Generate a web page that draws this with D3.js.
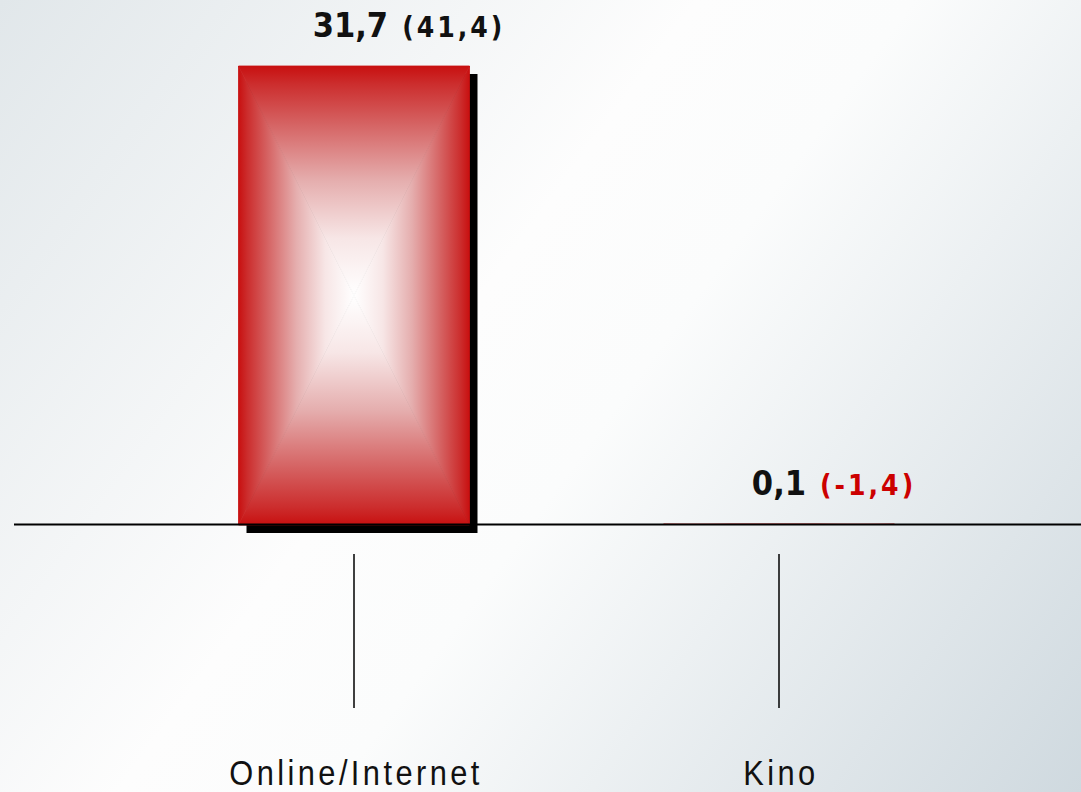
<!DOCTYPE html>
<html>
<head>
<meta charset="utf-8">
<script src="https://cdn.jsdelivr.net/npm/d3@7"></script>
<style>
  html, body { margin: 0; padding: 0; overflow: hidden; }
  svg { display: block; }
</style>
</head>
<body>
<script>
// data
var categories = ["Online/Internet", "Kino"];
var values = [31.7, 0.1];
var changes = ["(41,4)", "(-1,4)"];
var valueLabels = ["31,7", "0,1"];

var W = 1081, H = 792;

var svg = d3.select(document.body).append("svg")
  .attr("width", W).attr("height", H);

var defs = svg.append("defs");

// page background
var bg = defs.append("linearGradient").attr("id", "bg")
  .attr("gradientUnits", "userSpaceOnUse")
  .attr("x1", 0).attr("y1", 0).attr("x2", W).attr("y2", H);
bg.append("stop").attr("offset", 0).attr("stop-color", "#e1e7ea");
bg.append("stop").attr("offset", 0.42).attr("stop-color", "#fdfdfd");
bg.append("stop").attr("offset", 0.55).attr("stop-color", "#fbfcfc");
bg.append("stop").attr("offset", 1).attr("stop-color", "#cfd9df");
svg.append("rect").attr("width", W).attr("height", H).attr("fill", "url(#bg)");

// pillow gradients, edge red to white in the middle
function pillow(id, x1, y1, x2, y2) {
  var g = defs.append("linearGradient").attr("id", id)
    .attr("x1", x1).attr("y1", y1).attr("x2", x2).attr("y2", y2);
  [[0, "#c81010"], [0.08, "#cc2e2e"], [0.25, "#d56262"], [0.5, "#e5aeae"], [0.75, "#f7e6e6"], [1, "#ffffff"]]
    .forEach(function(s) {
      g.append("stop").attr("offset", s[0]).attr("stop-color", s[1]);
    });
}
pillow("gTop", 0, 0, 0, 1);
pillow("gBot", 0, 1, 0, 0);
pillow("gLeft", 0, 0, 1, 0);
pillow("gRight", 1, 0, 0, 0);

var x = d3.scaleBand().domain(categories)
  .range([141.5, 991.5]).paddingInner(0.4565).paddingOuter(0.4565 / 2);
var y = d3.scaleLinear().domain([0, 31.7]).range([525, 66]);

var shadowOff = 8;
var line = d3.line();

categories.forEach(function(c, i) {
  var x0 = x(c), bw = x.bandwidth(), x1 = x0 + bw, cx = x0 + bw / 2;
  var y0 = y(values[i]), y1 = y(0), bh = y1 - y0, cy = (y0 + y1) / 2;
  var g = svg.append("g");
  var big = bh > shadowOff;
  if (big) {
    g.append("rect").attr("x", x0 + shadowOff).attr("y", y0 + shadowOff)
      .attr("width", bw).attr("height", bh).attr("fill", "#000");
  }
  // four triangles meeting in the centre
  [["gTop", [[x0, y0], [x1, y0]]],
   ["gBot", [[x0, y1], [x1, y1]]],
   ["gLeft", [[x0, y0], [x0, y1]]],
   ["gRight", [[x1, y0], [x1, y1]]]].forEach(function(p) {
    g.append("path").attr("fill", "url(#" + p[0] + ")")
      .attr("stroke", big ? "url(#" + p[0] + ")" : "none").attr("stroke-width", 0.8)
      .attr("stroke-linejoin", "bevel")
      .attr("d", line([p[1][0], p[1][1], [cx, cy]]) + "Z");
  });

  // value label
  var t = svg.append("text")
    .attr("x", cx + 55).attr("y", y0 - 29)
    .attr("text-anchor", "middle")
    .style("font-family", "'DejaVu Sans Condensed', 'DejaVu Sans', sans-serif")
    .style("font-stretch", "condensed")
    .style("font-weight", "bold");
  t.append("tspan").style("font-size", "34px").attr("fill", "#111").text(valueLabels[i]);
  t.append("tspan").attr("dx", 14).style("font-size", "28px").style("letter-spacing", "3px")
    .attr("fill", changes[i].indexOf("-") >= 0 ? "#cc0000" : "#111").text(changes[i]);

  // tick line and category
  svg.append("line").attr("x1", cx).attr("x2", cx).attr("y1", 554).attr("y2", 708)
    .attr("stroke", "#000").attr("stroke-width", 1.5);
  svg.append("text")
    .attr("transform", "translate(" + (cx + 2) + ",785) scale(0.88,1)")
    .attr("text-anchor", "middle")
    .style("font-family", "'Liberation Sans', Arial, sans-serif")
    .style("font-size", "35px").style("letter-spacing", "3.9px")
    .attr("fill", "#111").text(c);
});

// baseline
svg.append("line").attr("x1", 14).attr("x2", W).attr("y1", 524.5).attr("y2", 524.5)
  .attr("stroke", "#000").attr("stroke-width", 2);
</script>
</body>
</html>
